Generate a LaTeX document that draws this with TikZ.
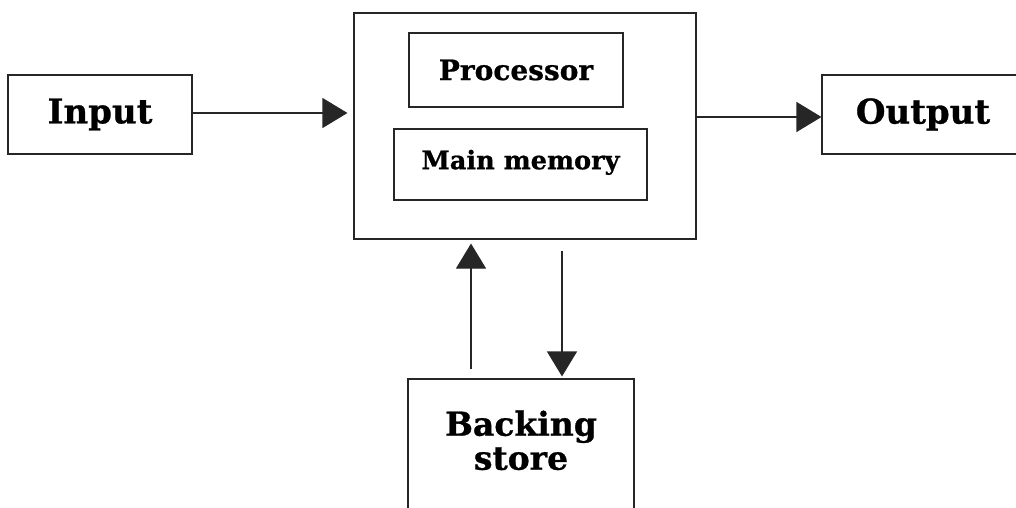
\documentclass[tikz,border=0pt]{standalone}
\usepackage{fontspec}
\setmainfont{DejaVu Serif}[BoldFeatures={FakeBold=0.8}]
\usetikzlibrary{arrows.meta,calc}
\begin{document}
\begin{tikzpicture}[x=0.5pt,y=-0.5pt,
  box/.style={draw=black!85,line width=0.55pt,inner sep=0pt,font=\bfseries},
  arr/.style={draw=black!85,line width=0.55pt,-{Triangle[length=12.5pt,width=15pt]}}]
\useasboundingbox (0,0) rectangle (1016,508);
\node[box,minimum width=92pt,minimum height=39.5pt,font=\bfseries\fontsize{17}{20}\selectfont] (input) at (100,114.5) {Input};
\node[box,minimum width=171pt,minimum height=113pt] (main) at (525,126) {};
\node[box,minimum width=107pt,minimum height=37pt,font=\bfseries\fontsize{14}{17}\selectfont] (proc) at (516,70) {Processor};
\node[box,minimum width=126.5pt,minimum height=35.5pt,font=\bfseries\fontsize{12.8}{15}\selectfont,text depth=0pt] (mem) at (520.5,164.5) {\raisebox{5pt}{Main memory}};
\node[box,minimum width=101pt,minimum height=39.5pt,font=\bfseries\fontsize{17}{20}\selectfont] (output) at (923,114.5) {Output};
\node[box,minimum width=113pt,minimum height=66.5pt,font=\bfseries\fontsize{16.5}{18}\selectfont] (backing) at (521,445.5) {\raisebox{3pt}{\begin{tabular}{@{}c@{}}Backing\\[-1pt] store\end{tabular}}};
\draw[arr,shorten >=3pt] ($(input.east)+(-2,-1.5)$) -- ($(main.west)+(0,-13)$);
\draw[arr] ($(main.east)+(0,-9)$) -- ($(output.west)+(0,2.5)$);
\draw[arr,shorten >=2pt] ($(backing.north)+(-50,-9)$) -- ($(main.south)+(-54,0)$);
\draw[arr,shorten >=1pt] ($(main.south)+(37,11)$) -- ($(backing.north)+(41,0)$);
\end{tikzpicture}
\end{document}
